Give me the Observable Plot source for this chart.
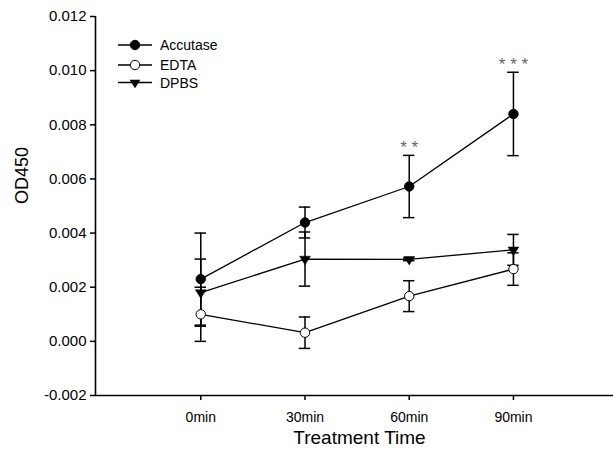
<!DOCTYPE html>
<html>
<head>
<meta charset="utf-8">
<script src="https://cdn.jsdelivr.net/npm/d3@7"></script>
<script src="https://cdn.jsdelivr.net/npm/@observablehq/plot@0.6"></script>
<style>
  html, body { margin: 0; padding: 0; background: #fff; }
  #chart { position: relative; width: 613px; height: 451px; }
  svg { font-family: Arial, "Liberation Sans", sans-serif; }
</style>
</head>
<body>
<div id="chart"></div>
<script>
const times = ["0min", "30min", "60min", "90min"];
const seriesNames = ["Accutase", "EDTA", "DPBS"];
const accutaseMean = [0.00230, 0.00439, 0.00572, 0.00840];
const accutaseErr  = [0.00170, 0.00057, 0.00115, 0.00154];
const edtaMean     = [0.00100, 0.00032, 0.00167, 0.00267];
const edtaErr      = [0.00100, 0.00058, 0.00057, 0.00060];
const dpbsMean     = [0.00180, 0.00304, 0.00303, 0.00338];
const dpbsErr      = [0.00124, 0.00100, 0.00005, 0.00057];
const sigIndex     = [2, 3];
const sigLabels    = ["* *", "* * *"];
const yTicks = [-0.002, 0.000, 0.002, 0.004, 0.006, 0.008, 0.010, 0.012];
const xDomain = [-1.01, 3.96];
const yDomain = [-0.002, 0.012];

const triangleDown = {
  draw(context, size) {
    const r = Math.sqrt(size / Math.PI);
    const w = r * 1.15, h = r * 1.8;
    context.moveTo(-w, -h / 3);
    context.lineTo(w, -h / 3);
    context.lineTo(0, 2 * h / 3);
    context.closePath();
  }
};

const means = [accutaseMean, edtaMean, dpbsMean];
const errs = [accutaseErr, edtaErr, dpbsErr];
const data = [];
seriesNames.forEach((s, k) => {
  times.forEach((t, i) => {
    data.push({series: s, i, time: t, mean: means[k][i], lo: means[k][i] - errs[k][i], hi: means[k][i] + errs[k][i]});
  });
});
const sig = sigIndex.map((i, j) => ({i, label: sigLabels[j], top: accutaseMean[i] + accutaseErr[i]}));
const capW = 0.055;
const caps = data.flatMap(d => [{...d, v: d.lo}, {...d, v: d.hi}]);

const styles = {
  Accutase: {fill: "black"},
  EDTA: {fill: "white"},
  DPBS: {fill: "black"}
};

const plot = Plot.plot({
  width: 613,
  height: 451,
  marginLeft: 95,
  marginRight: 0,
  marginTop: 16,
  marginBottom: 56,
  style: {fontFamily: "Arial, 'Liberation Sans', sans-serif", background: "white", color: "black"},
  x: {domain: xDomain, axis: null},
  y: {domain: yDomain, axis: null},
  marks: [
    Plot.axisY({ticks: yTicks, tickFormat: d => d.toFixed(3), tickSize: 5, tickPadding: 4, label: null, fontSize: 15, strokeWidth: 1.5}),
    Plot.axisX({ticks: d3.range(times.length), tickFormat: i => times[i], tickSize: 5, tickPadding: 12, label: null, fontSize: 14, strokeWidth: 1.5}),
    Plot.ruleX([xDomain[0]], {stroke: "black", strokeWidth: 1.6}),
    Plot.ruleY([yDomain[0]], {stroke: "black", strokeWidth: 1.6}),
    Plot.text(["Treatment Time"], {frameAnchor: "bottom", dy: 48, dx: 5, fontSize: 19, fill: "black"}),
    Plot.text(["OD450"], {frameAnchor: "left", dx: -73, dy: -2, rotate: -90, fontSize: 18, fill: "black"}),
    Plot.line(data, {x: "i", y: "mean", z: "series", stroke: "black", strokeWidth: 1.3}),
    Plot.ruleX(data, {x: "i", y1: "lo", y2: "hi", stroke: "black", strokeWidth: 1.5}),
    Plot.ruleY(caps, {y: "v", x1: d => d.i - capW, x2: d => d.i + capW, stroke: "black", strokeWidth: 1.5}),
    Plot.dot(data.filter(d => d.series !== "DPBS"), {x: "i", y: "mean", r: 4.7, fill: d => styles[d.series].fill, stroke: "black", strokeWidth: 1}),
    Plot.dot(data.filter(d => d.series === "DPBS"), {x: "i", y: "mean", r: 4.7, symbol: triangleDown, fill: "black", stroke: "black", strokeWidth: 0.5}),
    Plot.text(sig, {x: "i", y: "top", text: "label", dy: -8, fontSize: 17, fill: "#666"})
  ]
});

// legend
const svg = d3.select(plot);
const legendRows = [45, 65, 82.5];
const lg = svg.append("g").attr("text-anchor", "start");
seriesNames.forEach((s, k) => {
  const g = lg.append("g").attr("transform", `translate(0,${legendRows[k]})`);
  g.append("line").attr("x1", 118).attr("x2", 152).attr("y1", 0).attr("y2", 0).attr("stroke", "black").attr("stroke-width", 1.3);
  if (s === "DPBS") {
    g.append("path").attr("transform", "translate(135,0)").attr("d", d3.symbol().type(triangleDown).size(Math.PI * 4.7 * 4.7)()).attr("fill", "black");
  } else {
    g.append("circle").attr("cx", 135).attr("cy", 0).attr("r", 4.7).attr("fill", styles[s].fill).attr("stroke", "black").attr("stroke-width", 1);
  }
  g.append("text").attr("x", 160).attr("y", 0).attr("dy", "0.36em").attr("font-size", 14).attr("fill", "black").attr("text-anchor", "start").text(s);
});

document.getElementById("chart").appendChild(plot);
</script>
</body>
</html>
